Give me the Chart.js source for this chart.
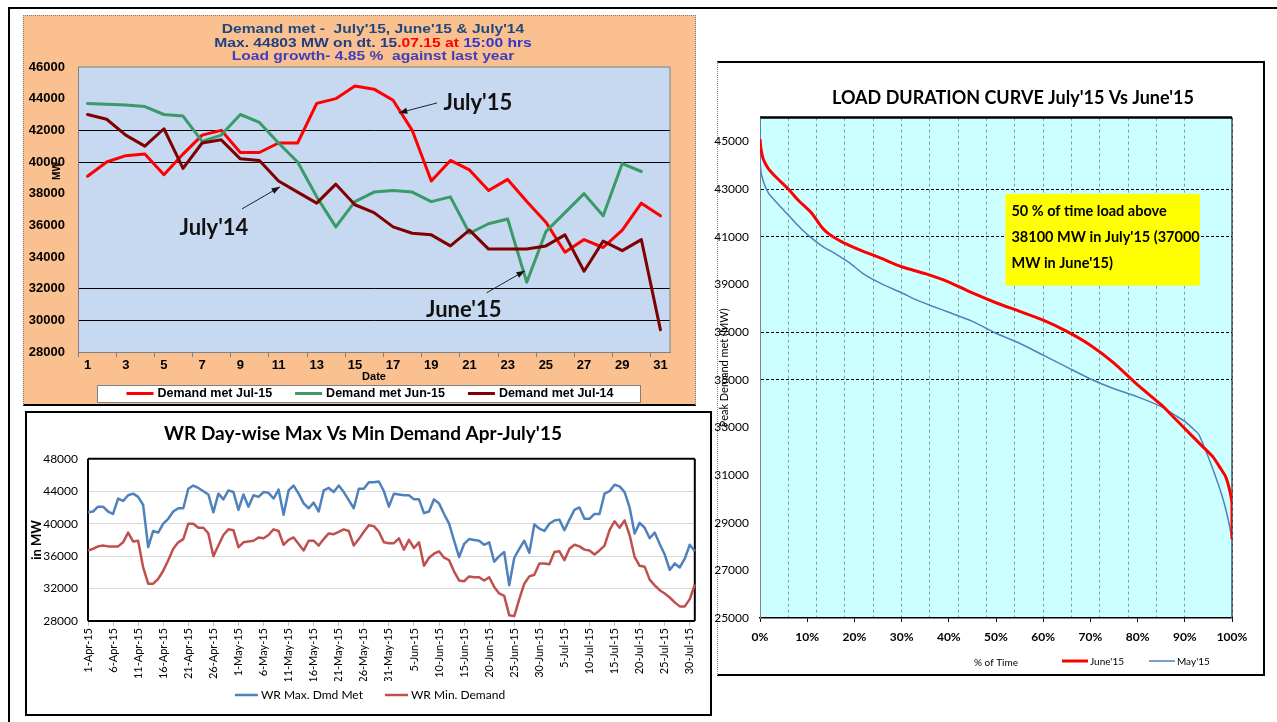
<!DOCTYPE html>
<html>
<head>
<meta charset="utf-8">
<script src="https://cdn.jsdelivr.net/npm/chart.js@4.4.1/dist/chart.umd.min.js"></script>
<style>
  html, body { margin: 0; padding: 0; width: 1277px; height: 722px; overflow: hidden; background: #fff; }
  .abs { position: absolute; }
  #frameTop { left: 8px; top: 7px; width: 1269px; height: 2px; background: #000; }
  #frameLeft { left: 8px; top: 7px; width: 2px; height: 715px; background: #000; }
  #panel1 { left: 23px; top: 15px; width: 673px; height: 391px; background: #FAC090; box-sizing: border-box;
            border: 1px dotted #808080; border-bottom: 2px solid #000; }
  #panel2 { left: 25px; top: 411px; width: 687px; height: 305px; background: #fff; box-sizing: border-box; border: 2px solid #000; }
  #panel3 { left: 717px; top: 61px; width: 548px; height: 615px; background: #fff; box-sizing: border-box;
            border: 2px solid #000; border-left: 1px dotted #888; }
  #title1 { left: 173px; top: 22px; width: 400px; text-align: center; white-space: pre;
            font: bold 13px "Liberation Sans", Arial, sans-serif; line-height: 13.5px;
            transform: scaleX(1.2); transform-origin: 50% 0; }
</style>
</head>
<body>
<div id="frameTop" class="abs"></div>
<div id="frameLeft" class="abs"></div>
<div id="panel1" class="abs"></div>
<div id="panel2" class="abs"></div>
<div id="panel3" class="abs"></div>
<canvas id="c1" class="abs" width="673" height="390" style="left:23px;top:15px"></canvas>
<canvas id="c2" class="abs" width="683" height="301" style="left:27px;top:413px"></canvas>
<canvas id="c3" class="abs" width="602" height="612" style="left:712px;top:62px"></canvas>
<div id="title1" class="abs"><div style="color:#1F497D">Demand met -  July'15, June'15 &amp; July'14</div><div><span style="color:#1F3F7F">Max. 44803 MW on dt. 15</span><span style="color:#FF0000">.07.15 at </span><span style="color:#3535C8">15:00 hrs</span></div><div style="color:#4040B8">Load growth- 4.85 %  against last year</div></div>
<script>
// top-left: daily demand met (MW)
const days = ['1','2','3','4','5','6','7','8','9','10','11','12','13','14','15','16',
              '17','18','19','20','21','22','23','24','25','26','27','28','29','30','31'];
const demandJul15 = [39100, 40000, 40400, 40500, 39200, 40500, 41700, 42000, 40600, 40600, 41200,
                     41200, 43700, 44000, 44803, 44600, 43900, 42000, 38800, 40100, 39500, 38200,
                     38900, 37500, 36200, 34300, 35100, 34600, 35700, 37400, 36600];
const demandJun15 = [43700, 43650, 43600, 43500, 43000, 42900, 41300, 41700, 43000, 42500, 41200,
                     40000, 37800, 35900, 37500, 38100, 38200, 38100, 37500, 37800, 35500, 36100,
                     36400, 32400, 35600, 36800, 38000, 36600, 39900, 39400, null];
const demandJul14 = [43000, 42700, 41700, 41000, 42100, 39600, 41200, 41400, 40200, 40100, 38800,
                     38100, 37400, 38600, 37300, 36800, 35900, 35500, 35400, 34700, 35700, 34500,
                     34500, 34500, 34700, 35400, 33100, 35000, 34400, 35100, 29400];
const topGridValues = [42000, 40000, 32000, 30000];

// bottom-left: WR day-wise max / min demand, 1-Apr-15 .. 31-Jul-15
const wrMonths = [['Apr', 30], ['May', 31], ['Jun', 30], ['Jul', 31]];
const wrDates = wrMonths.flatMap(([m, n]) => Array.from({ length: n }, (_, i) => `${i + 1}-${m}-15`));
const wrMaxDemand = [
  41400, 41500, 42100, 42100, 41500, 41200, 43100, 42800, 43500, 43700,
  43300, 42300, 37100, 39100, 38900, 40000, 40600, 41500, 41900, 41900,
  44300, 44700, 44400, 44000, 43600, 41400, 43700, 43000, 44100, 43900,
  41700, 43600, 42100, 43500, 43300, 43900, 43800, 43100, 44200, 41100,
  44100, 44700, 43700, 42500, 41900, 42600, 41500, 44100, 44400, 43900,
  44700, 43900, 42900, 41900, 44300, 44300, 45100, 45100, 45200, 44000,
  42100, 43700, 43600, 43500, 43500, 43000, 43000, 41300, 41500, 43000,
  42500, 41200, 40000, 37900, 35900, 37500, 38100, 38000, 37900, 37400,
  37700, 35300, 36000, 36500, 32400, 35800, 36900, 37900, 36400, 39900,
  39400, 39100, 40000, 40400, 40500, 39200, 40500, 41700, 42000, 40600,
  40600, 41200, 41200, 43700, 44000, 44800, 44600, 43900, 42000, 38800,
  40100, 39500, 38200, 38900, 37500, 36200, 34300, 35100, 34600, 35700,
  37400, 36600];
const wrMinDemand = [
  36700, 36900, 37200, 37300, 37200, 37200, 37200, 37700, 38900, 37800,
  37900, 34600, 32600, 32600, 33200, 34200, 35500, 36900, 37700, 38100,
  40000, 40000, 39500, 39500, 38800, 36000, 37300, 38600, 39300, 39200,
  37100, 37700, 37800, 37900, 38300, 38200, 38600, 39300, 39100, 37400,
  38000, 38300, 37500, 36700, 37900, 37900, 37300, 38100, 38800, 38700,
  39000, 39300, 39100, 37300, 38100, 39000, 39800, 39700, 39000, 37700,
  37600, 37600, 38200, 36800, 38000, 37000, 37700, 34800, 35800, 36300,
  36600, 35800, 35500, 34100, 33000, 32900, 33500, 33400, 33400, 33000,
  33400, 32200, 31400, 31100, 28700, 28600, 30700, 32600, 33500, 33700,
  35100, 35100, 35000, 36500, 36600, 35500, 36900, 37400, 37200, 36800,
  36700, 36200, 36700, 37300, 39200, 40300, 39500, 40400, 38600, 35900,
  34800, 34700, 33100, 32400, 31800, 31400, 30900, 30300, 29800, 29800,
  30700, 32500];

// right: load duration curves (% of time vs MW)
const ldcJunePct = [0, 0.2, 0.7, 1.8, 3.2, 6, 8, 11, 13, 14.5, 17, 19, 22, 26, 30, 35, 40, 45, 50,
                    55, 60, 65, 70, 75, 80, 85, 88, 90, 92, 94, 96, 97.5, 98.6, 99.4, 100, 100];
const ldcJuneMW = [45100, 44700, 44250, 43850, 43540, 43000, 42550, 41980, 41420, 41130, 40820,
                   40630, 40380, 40070, 39740, 39450, 39100, 38640, 38230, 37870, 37500, 37030,
                   36450, 35700, 34780, 33950, 33350, 32950, 32550, 32150, 31750, 31300, 30950,
                   30450, 29800, 28300];
const ldcMayPct = [0, 0.1, 0.7, 1.8, 4, 6, 8, 10, 13, 16, 19, 22, 26, 30, 33, 37, 40, 45, 50, 55,
                   60, 65, 70, 75, 80, 85, 88, 90, 92, 93, 96.4, 98.5, 100, 100];
const ldcMayMW = [46000, 43900, 43330, 42830, 42330, 41910, 41480, 41100, 40630, 40280, 39900,
                  39430, 39000, 38650, 38360, 38050, 37830, 37450, 36950, 36530, 36030, 35530,
                  35030, 34620, 34280, 33870, 33500, 33250, 32900, 32700, 31000, 29700, 28200, 25000];
const ldcYTicks = [25000, 27000, 29000, 31000, 33000, 35000, 37000, 39000, 41000, 43000, 45000];
const ldcGridValues = [43000, 41000, 37000, 35000];
const ldcNote = ["50 % of time load above", "38100 MW in July'15 (37000", "MW in June'15)"];

Chart.defaults.font.family = 'Lato, sans-serif';
Chart.defaults.color = '#000';
const arial = '"Liberation Sans", Arial, sans-serif';
const plain = v => String(v);

// plot area background + frame
const plotFrame = {
  id: 'plotFrame',
  beforeDraw(chart, args, o) {
    const { ctx, chartArea: a } = chart;
    if (!o.fill) return;
    ctx.save();
    ctx.fillStyle = o.fill;
    ctx.fillRect(a.left, a.top, a.width, a.height);
    ctx.restore();
  },
  beforeDatasetsDraw(chart, args, o) {
    const { ctx, chartArea: a } = chart;
    const sides = {
      top: [a.left, a.top, a.right, a.top],
      right: [a.right, a.top, a.right, a.bottom],
      bottom: [a.left, a.bottom, a.right, a.bottom],
      left: [a.left, a.top, a.left, a.bottom]
    };
    ctx.save();
    for (const k in sides) {
      if (!o[k]) continue;
      ctx.strokeStyle = o[k][0];
      ctx.lineWidth = o[k][1];
      ctx.beginPath();
      ctx.moveTo(sides[k][0], sides[k][1]);
      ctx.lineTo(sides[k][2], sides[k][3]);
      ctx.stroke();
    }
    ctx.restore();
  }
};

// simple line-sample legend drawn from the datasets
const lineLegend = {
  id: 'lineLegend',
  afterDraw(chart, args, o) {
    const ctx = chart.ctx;
    ctx.save();
    ctx.font = o.font;
    const items = chart.data.datasets.map(ds => ({ ds, w: o.sample + o.gap + ctx.measureText(ds.label).width }));
    const total = items.reduce((s, it) => s + it.w, 0) + o.spacing * (items.length - 1);
    if (o.box) {
      const b = o.box;
      ctx.fillStyle = '#fff';
      ctx.fillRect(b[0], b[1], b[2] - b[0], b[3] - b[1]);
      ctx.strokeStyle = '#7f7f7f';
      ctx.lineWidth = 1;
      ctx.strokeRect(b[0] + 0.5, b[1] + 0.5, b[2] - b[0], b[3] - b[1]);
    }
    let x = o.cx != null ? o.cx - total / 2 : o.x;
    ctx.textBaseline = 'middle';
    ctx.textAlign = 'left';
    ctx.fillStyle = '#000';
    items.forEach(({ ds, w }) => {
      ctx.strokeStyle = ds.borderColor;
      ctx.lineWidth = ds.borderWidth;
      ctx.beginPath();
      ctx.moveTo(x, o.y);
      ctx.lineTo(x + o.sample, o.y);
      ctx.stroke();
      ctx.fillText(ds.label, x + o.sample + o.gap, o.y + 0.5);
      x += w + o.spacing;
    });
    ctx.restore();
  }
};

// arrow call-outs for the top-left chart, placed in data units
const callouts = {
  id: 'callouts',
  afterDatasetsDraw(chart, args, o) {
    const { ctx, scales: { x, y }, chartArea: a } = chart;
    ctx.save();
    ctx.fillStyle = '#111';
    ctx.strokeStyle = '#222';
    ctx.lineWidth = 1;
    o.items.forEach(it => {
      const x0 = x.getPixelForValue(it.from[0]), y0 = y.getPixelForValue(it.from[1]);
      const x1 = x.getPixelForValue(it.to[0]), y1 = y.getPixelForValue(it.to[1]);
      ctx.beginPath(); ctx.moveTo(x0, y0); ctx.lineTo(x1, y1); ctx.stroke();
      const ang = Math.atan2(y1 - y0, x1 - x0);
      ctx.beginPath();
      ctx.moveTo(x1, y1);
      ctx.lineTo(x1 - 9 * Math.cos(ang - 0.35), y1 - 9 * Math.sin(ang - 0.35));
      ctx.lineTo(x1 - 9 * Math.cos(ang + 0.35), y1 - 9 * Math.sin(ang + 0.35));
      ctx.closePath(); ctx.fill();
      ctx.font = o.font;
      ctx.textAlign = 'center';
      ctx.textBaseline = 'middle';
      ctx.fillText(it.text, x.getPixelForValue(it.at[0]), y.getPixelForValue(it.at[1]));
    });
    // rotated "MW" axis name sits over the tick labels as in the original
    ctx.translate(a.left - 21, a.top + 104);
    ctx.rotate(-Math.PI / 2);
    ctx.font = 'bold 10px ' + arial;
    ctx.fillStyle = '#000';
    ctx.fillText('MW', 0, 0);
    ctx.restore();
  }
};

// yellow note box for the load duration chart
const noteBox = {
  id: 'noteBox',
  beforeDatasetsDraw(chart, args, o) {
    const { ctx, scales: { x, y } } = chart;
    const l = x.getPixelForValue(o.from[0]), t = y.getPixelForValue(o.from[1]);
    const r = x.getPixelForValue(o.to[0]), b = y.getPixelForValue(o.to[1]);
    ctx.save();
    ctx.fillStyle = '#FFFF00';
    ctx.fillRect(l, t, r - l, b - t);
    ctx.fillStyle = '#000';
    ctx.font = o.font;
    ctx.textBaseline = 'middle';
    ldcNote.forEach((s, i) => ctx.fillText(s, l + o.padX, t + o.firstY + i * o.lineGap));
    ctx.restore();
  }
};

new Chart(document.getElementById('c1'), {
  type: 'line',
  data: {
    labels: days,
    datasets: [
      { label: 'Demand met Jul-15', data: demandJul15, borderColor: '#FF0000', borderWidth: 3, order: 3 },
      { label: 'Demand met Jun-15', data: demandJun15, borderColor: '#3A9A68', borderWidth: 3, order: 2 },
      { label: 'Demand met Jul-14', data: demandJul14, borderColor: '#7F0000', borderWidth: 3, order: 1 }
    ]
  },
  options: {
    responsive: false,
    animation: false,
    events: [],
    elements: { point: { radius: 0 }, line: { tension: 0, borderJoinStyle: 'round', borderCapStyle: 'round' } },
    layout: { padding: { left: 0, right: 26, top: 52, bottom: 20 } },
    plugins: {
      legend: { display: false },
      tooltip: { enabled: false },
      plotFrame: { fill: '#C6D9F1', top: ['#808080', 1], right: ['#808080', 1] },
      lineLegend: { box: [74, 370, 617, 387], cx: 347, y: 378.5, sample: 27, gap: 4, spacing: 23, font: 'bold 12.5px ' + arial },
      callouts: {
        font: 'bold 22px Lato',
        items: [
          { text: "July'15", at: [20.44, 43730], from: [18.3, 43730], to: [16.3, 43100] },
          { text: "July'14", at: [6.62, 35840], from: [8.09, 37040], to: [10.08, 38430] },
          { text: "June'15", at: [19.7, 30670], from: [20.9, 31740], to: [22.9, 33130] }
        ]
      }
    },
    scales: {
      x: {
        offset: true,
        grid: { offset: true, drawOnChartArea: false, tickLength: 5,
                tickColor: c => (c.index % 2 === 0 ? '#808080' : 'rgba(0,0,0,0)') },
        border: { color: '#808080' },
        ticks: { autoSkip: false, maxRotation: 0, padding: 1,
                 font: { family: arial, weight: 'bold', size: 13 },
                 callback: (v, i) => (i % 2 === 0 ? days[i] : '') },
        title: { display: true, text: 'Date', font: { family: arial, weight: 'bold', size: 11 }, padding: { top: 0, bottom: 1 } },
        afterFit: s => { s.height = 33; }
      },
      y: {
        min: 28000, max: 46000,
        ticks: { stepSize: 2000, padding: 13, font: { family: arial, weight: 'bold', size: 13 }, callback: plain },
        grid: { drawTicks: false, color: c => (c.tick && topGridValues.includes(c.tick.value) ? '#000' : 'rgba(0,0,0,0)') },
        border: { color: '#808080' },
        afterFit: s => { s.width = 55; }
      }
    }
  },
  plugins: [plotFrame, lineLegend, callouts]
});

new Chart(document.getElementById('c2'), {
  type: 'line',
  data: {
    labels: wrDates,
    datasets: [
      { label: 'WR Max. Dmd Met', data: wrMaxDemand, borderColor: '#4F81BD', borderWidth: 2.5 },
      { label: 'WR Min. Demand', data: wrMinDemand, borderColor: '#C0504D', borderWidth: 2.5 }
    ]
  },
  options: {
    responsive: false,
    animation: false,
    events: [],
    elements: { point: { radius: 0 }, line: { tension: 0, borderJoinStyle: 'round' } },
    layout: { padding: { left: 0, right: 11, top: 0, bottom: 33 } },
    plugins: {
      legend: { display: false },
      tooltip: { enabled: false },
      title: { display: true, text: "WR Day-wise Max Vs Min Demand Apr-July'15",
               font: { size: 19, weight: 'bold' }, color: '#000', padding: { top: 9, bottom: 14 } },
      plotFrame: { top: ['#000', 2], right: ['#000', 2], bottom: ['#000', 2], left: ['#000', 2] },
      lineLegend: { cx: 343, y: 282, sample: 23, gap: 3, spacing: 22, font: '12px Lato' }
    },
    scales: {
      x: {
        grid: { drawOnChartArea: false, tickLength: 5,
                tickColor: c => (c.index % 5 === 0 ? '#BFBFBF' : 'rgba(0,0,0,0)') },
        border: { display: false },
        ticks: { autoSkip: false, minRotation: 90, maxRotation: 90, padding: 2, font: { size: 11 },
                 callback: (v, i) => (i % 5 === 0 ? wrDates[i] : '') },
        afterFit: s => { s.height = 60; }
      },
      y: {
        min: 28000, max: 48000,
        ticks: { stepSize: 2000, padding: 10, font: { size: 12 }, callback: plain },
        grid: { color: '#D9D9D9', drawTicks: false },
        border: { display: false },
        title: { display: true, text: 'in MW', font: { size: 13, weight: 'bold' }, padding: { top: 2, bottom: 0 } },
        afterFit: s => { s.width = 61; }
      }
    }
  },
  plugins: [plotFrame, lineLegend]
});

new Chart(document.getElementById('c3'), {
  type: 'line',
  data: {
    datasets: [
      { label: "June'15", data: ldcJunePct.map((p, i) => ({ x: p, y: ldcJuneMW[i] })), borderColor: '#FF0000', borderWidth: 3 },
      { label: "May'15", data: ldcMayPct.map((p, i) => ({ x: p, y: ldcMayMW[i] })), borderColor: '#4F81BD', borderWidth: 1.5 }
    ]
  },
  options: {
    responsive: false,
    animation: false,
    events: [],
    elements: { point: { radius: 0 }, line: { tension: 0.2, borderJoinStyle: 'round' } },
    layout: { padding: { left: 0, right: 0, top: 0, bottom: 5 } },
    plugins: {
      legend: { display: false },
      tooltip: { enabled: false },
      title: { display: true, text: "LOAD DURATION CURVE July'15 Vs June'15",
               font: { size: 18, weight: 'bold' }, color: '#000', padding: { top: 25, bottom: 9 } },
      plotFrame: { fill: '#CCFFFF', top: ['#000', 2.5], right: ['#000', 1] },
      lineLegend: { x: 350, y: 599, sample: 26, gap: 2, spacing: 25, font: '10px Lato' },
      noteBox: { from: [52, 42800], to: [93.2, 38950], font: 'bold 14.5px Lato', padX: 6, firstY: 17, lineGap: 26 }
    },
    scales: {
      x: {
        type: 'linear', min: 0, max: 100,
        ticks: { stepSize: 10, padding: 8, font: { size: 12, weight: 'bold' }, callback: v => v + '%' },
        grid: { drawOnChartArea: false, tickLength: 4, color: '#000' },
        border: { color: '#000', width: 1.5 },
        title: { display: true, text: '% of Time', font: { size: 10 }, padding: { top: 0, bottom: 0 } },
        afterFit: s => { s.height = 51; }
      },
      x2: {
        type: 'linear', position: 'bottom', min: 0, max: 100,
        ticks: { display: false, stepSize: 6 },
        grid: { drawTicks: false, color: '#7F9F9F' },
        border: { display: false, dash: [3, 3] },
        afterFit: s => { s.height = 0; }
      },
      y: {
        min: 25000, max: 46000,
        ticks: { padding: 11, font: { size: 12 }, callback: plain },
        afterBuildTicks: s => { s.ticks = ldcYTicks.map(v => ({ value: v })); },
        grid: { drawTicks: false, color: c => (c.tick && ldcGridValues.includes(c.tick.value) ? '#000' : 'rgba(0,0,0,0)') },
        border: { color: '#808080', dash: [3, 2] },
        title: { display: true, text: 'Peak Demand met (MW)', font: { size: 11 }, padding: { top: 6, bottom: 0 } },
        afterFit: s => { s.width = 48; }
      },
      yPad: {
        position: 'right', min: 0, max: 1,
        ticks: { display: false },
        grid: { display: false, drawTicks: false },
        border: { display: false },
        afterFit: s => { s.width = 82; }
      }
    }
  },
  plugins: [plotFrame, lineLegend, noteBox]
});
</script>
</body>
</html>
